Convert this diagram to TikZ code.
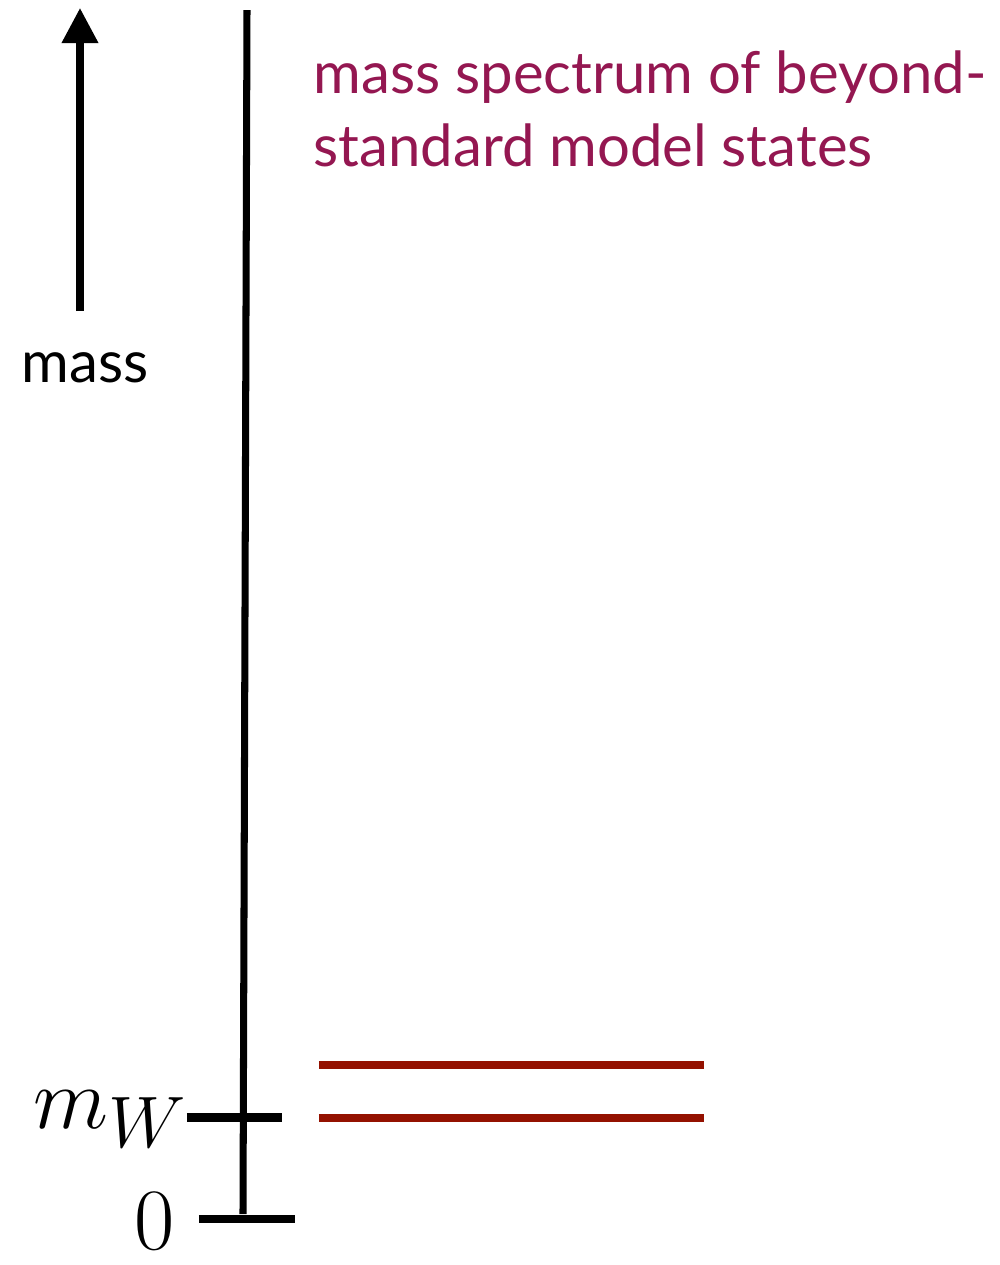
\documentclass[tikz,border=0pt]{standalone}
\usepackage{fontspec}
\setmainfont{Lato}
\usetikzlibrary{arrows.meta}
\definecolor{maroon}{HTML}{941751}
\definecolor{cayenne}{HTML}{941100}
\begin{document}
\begin{tikzpicture}[x=0.01cm, y=-0.01cm, every node/.style={inner sep=0pt}, >={Triangle[length=10pt, width=10pt]},
    labeltext/.style={anchor=base west, font=\fontsize{16.5}{20}\selectfont},
    mathtext/.style={font=\fontsize{29.5}{34}\selectfont},
    tickline/.style={line width=2.3pt},
    statebar/.style={cayenne, line width=2.3pt}]
    \useasboundingbox (0,0) rectangle (1000,1265);
    % mass arrow
    \coordinate (mbot) at (80,311);
    \coordinate (mtop) at (80,8);
    \draw[->, line width=2pt] (mbot) -- (mtop);
    \node[labeltext] (masslbl) at (21,382) {mass};
    % axis with ticks
    \coordinate (atop) at (247,10);
    \coordinate (abot) at (243,1214);
    \draw[line width=2pt] (atop) -- (abot);
    \coordinate (wl) at (187,1117.5);
    \coordinate (wr) at (282,1117.5);
    \coordinate (zl) at (199,1219);
    \coordinate (zr) at (295,1219);
    \draw[tickline] (wl) -- (wr);
    \draw[tickline] (zl) -- (zr);
    \node[mathtext, anchor=base west] (mw) at (33,1128) {$m_W$};
    \node[mathtext, anchor=base] (zero) at (155,1249) {$0$};
    % states
    \coordinate (s1l) at (319,1065);
    \coordinate (s1r) at (704,1065);
    \coordinate (s2l) at (319,1118);
    \coordinate (s2r) at (704,1118);
    \draw[statebar] (s1l) -- (s1r);
    \draw[statebar] (s2l) -- (s2r);
    \node[labeltext, text=maroon] (spec1) at (313,93) {mass spectrum of beyond-};
    \node[labeltext, text=maroon] (spec2) at (313,166) {standard model states};
\end{tikzpicture}
\end{document}
